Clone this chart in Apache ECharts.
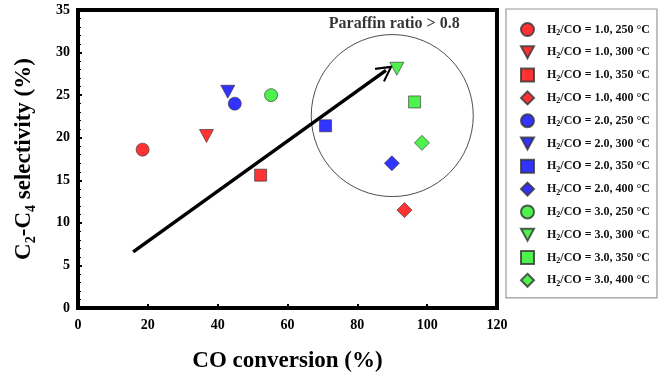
<!DOCTYPE html>
<html>
<head>
<meta charset="utf-8">
<script src="https://cdn.jsdelivr.net/npm/echarts@6/dist/echarts.min.js"></script>
<style>
  html, body { margin: 0; padding: 0; background: #fff; }
  #chart { width: 668px; height: 378px; }
</style>
</head>
<body>
<div id="chart"></div>
<script>
// series names (legend order)
const seriesNames = [
  'H2/CO = 1.0, 250 °C', 'H2/CO = 1.0, 300 °C', 'H2/CO = 1.0, 350 °C', 'H2/CO = 1.0, 400 °C',
  'H2/CO = 2.0, 250 °C', 'H2/CO = 2.0, 300 °C', 'H2/CO = 2.0, 350 °C', 'H2/CO = 2.0, 400 °C',
  'H2/CO = 3.0, 250 °C', 'H2/CO = 3.0, 300 °C', 'H2/CO = 3.0, 350 °C', 'H2/CO = 3.0, 400 °C'
];
// CO conversion (%)
const coConversion = [18.5, 36.8, 52.3, 93.5, 44.9, 42.9, 70.9, 89.9, 55.3, 91.3, 96.4, 98.5];
// C2-C4 selectivity (%)
const c2c4Selectivity = [18.6, 20.2, 15.6, 11.5, 24.0, 25.4, 21.4, 17.0, 25.0, 28.1, 24.2, 19.4];

const seriesColors = ['#ff0000', '#ff0000', '#ff0000', '#ff0000',
                      '#0000ff', '#0000ff', '#0000ff', '#0000ff',
                      '#22ee22', '#22ee22', '#22ee22', '#22ee22'];

// annotation: trend arrow and paraffin circle (data units)
const arrowStart = [15.8, 6.6];
const arrowEnd = [88.2, 27.9];
const circleCenter = [90, 22.6];
const circleLabel = 'Paraffin ratio > 0.8';

const xTicks = [0, 120, 20];
const yTicks = [0, 35, 5];

const invTriangle = 'path://M0,0 L12,0 L6,11 Z';
const symbolTypes = ['circle', invTriangle, 'rect', 'diamond'];
const symbolSizes = [13, [14, 13], 12, 15];

const chart = echarts.init(document.getElementById('chart'));
const fontFamily = '"Liberation Serif", "DejaVu Serif", serif';

const scatterSeries = seriesNames.map((name, i) => ({
  name,
  type: 'scatter',
  symbol: symbolTypes[i % 4],
  symbolSize: symbolSizes[i % 4],
  itemStyle: { color: seriesColors[i], borderColor: '#333', borderWidth: 0.8 },
  data: [[coConversion[i], c2c4Selectivity[i]]],
  z: 5
}));

const option = {
  backgroundColor: '#fff',
  animation: false,
  textStyle: { fontFamily },
  grid: {
    left: 78, right: 171, top: 10, bottom: 66,
    show: true, borderColor: '#000', borderWidth: 4
  },
  xAxis: {
    type: 'value',
    min: xTicks[0], max: xTicks[1], interval: xTicks[2],
    name: 'CO conversion (%)',
    nameLocation: 'middle',
    nameGap: 42,
    nameTextStyle: { fontFamily, fontWeight: 'bold', fontSize: 23, color: '#000' },
    axisLine: { show: false },
    axisTick: { inside: true, length: 4, lineStyle: { color: '#000', width: 2 } },
    axisLabel: { fontFamily, fontWeight: 'bold', fontSize: 14, color: '#000', margin: 10 },
    splitLine: { show: false }
  },
  yAxis: {
    type: 'value',
    min: yTicks[0], max: yTicks[1], interval: yTicks[2],
    name: '{b|C}{s|2}{b|-C}{s|4}{b| selectivity (%)}',
    nameLocation: 'middle',
    nameGap: 40,
    nameTextStyle: {
      color: '#000',
      rich: {
        b: { fontFamily, fontWeight: 'bold', fontSize: 23, color: '#000' },
        s: { fontFamily, fontWeight: 'bold', fontSize: 14, color: '#000', padding: [13, 0, 0, 0] }
      }
    },
    axisLine: { show: false },
    axisTick: { inside: true, length: 4, lineStyle: { color: '#000', width: 2 } },
    minorTick: { show: true, splitNumber: 5, length: 3, lineStyle: { color: '#000', width: 1 } },
    axisLabel: { fontFamily, fontWeight: 'bold', fontSize: 14, color: '#000', margin: 8 },
    splitLine: { show: false }
  },
  legend: {
    data: seriesNames,
    orient: 'vertical',
    left: 506, top: 9,
    padding: [13, 7, 10, 14],
    itemWidth: 13, itemHeight: 13,
    itemGap: 7.8,
    backgroundColor: '#fff',
    borderColor: '#999', borderWidth: 1.2,
    formatter: name => '{h|H}{s|2}{b|' + name.slice(2) + '}',
    textStyle: {
      rich: {
        h: { fontFamily, fontWeight: 'bold', fontSize: 12, lineHeight: 15, color: '#111', padding: [0, 0, 0, 8] },
        b: { fontFamily, fontWeight: 'bold', fontSize: 12, lineHeight: 15, color: '#111' },
        s: { fontFamily, fontWeight: 'bold', fontSize: 8, lineHeight: 8, color: '#111', padding: [7, 0, 0, 0] }
      }
    }
  },
  series: [
    {
      type: 'scatter',
      silent: true,
      symbol: 'circle',
      symbolSize: 162,
      itemStyle: { color: 'rgba(0,0,0,0)', borderColor: '#222', borderWidth: 1 },
      label: {
        show: true, position: 'top', distance: 2,
        formatter: circleLabel,
        fontFamily, fontWeight: 'bold', fontSize: 16, color: '#000',
        offset: [2, 0]
      },
      data: [circleCenter],
      z: 2
    },
    {
      type: 'lines',
      coordinateSystem: 'cartesian2d',
      silent: true,
      symbol: ['none', 'path://M0,0 L10,14 L8,15 L0,4 L-8,15 L-10,14 Z'],
      symbolSize: [17, 17],
      lineStyle: { color: '#000', width: 3.5, opacity: 1 },
      itemStyle: { color: '#000' },
      data: [{ coords: [arrowStart, arrowEnd] }],
      z: 3
    },
    ...scatterSeries
  ]
};

chart.setOption(option);
</script>
</body>
</html>
